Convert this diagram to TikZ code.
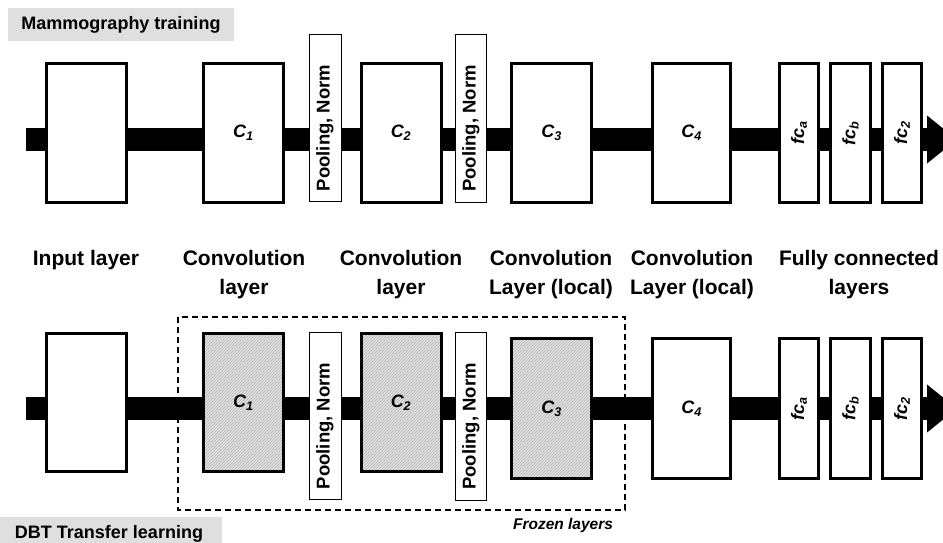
\documentclass[tikz,border=0pt]{standalone}
\usepackage{fontspec}
\setmainfont{Liberation Sans}
\usetikzlibrary{arrows.meta,patterns}

\begin{document}
\begin{tikzpicture}[x=1pt,y=-1pt,
  layer/.style={draw,line width=3pt,fill=white,minimum width=80pt,minimum height=139pt,inner sep=0pt,font=\fontsize{18}{20}\selectfont\bfseries\itshape},
  frozen/.style={layer,preaction={fill=gray!22},pattern=north east lines,pattern color=gray!60},
  fcl/.style={layer,rotate=90,minimum width=139pt,minimum height=39.5pt},
  pool/.style={draw,line width=1pt,fill=white,rotate=90,minimum width=167pt,minimum height=32pt,inner sep=0pt,font=\fontsize{18.5}{20}\selectfont\bfseries},
  bar/.style={line width=23pt,-{Triangle[length=30pt,width=46pt]}},
  title/.style={fill=gray!25,minimum width=226pt,minimum height=33pt,inner sep=0pt,font=\fontsize{18}{20}\selectfont\bfseries},
  lbl/.style={anchor=north,inner sep=0pt,align=center,font=\fontsize{21}{29}\selectfont\bfseries}]
  \clip (0,0) rectangle (943,542);
  \node[title] (mammo) at (121,24.5) {Mammography training};
  \node[title] (dbt) at (109,533.5) {DBT Transfer learning};
  \coordinate (s1) at (26,139.5); \coordinate (e1) at (957,139.5);
  \coordinate (s2) at (26,408.5); \coordinate (e2) at (957,408.5);
  \draw[bar] (s1) -- (e1);
  \draw[bar] (s2) -- (e2);
  \node[layer] (in1) at (86,133) {};
  \node[layer] (c1) at (243.5,133) {C\textsubscript{1}};
  \node[pool] (p1) at (325,118) {Pooling, Norm\hspace*{20pt}};
  \node[layer] (c2) at (401,133) {C\textsubscript{2}};
  \node[pool,minimum height=31pt,minimum width=168pt] (p2) at (471,118.5) {Pooling, Norm\hspace*{20pt}};
  \node[layer] (c3) at (551.5,133) {C\textsubscript{3}};
  \node[layer,minimum width=78pt] (c4) at (691.5,133) {C\textsubscript{4}};
  \node[fcl] (fca) at (799,133) {fc\textsubscript{a}};
  \node[fcl,minimum height=40pt] (fcb) at (850.5,133) {fc\textsubscript{b}};
  \node[fcl] (fc2) at (902,133) {fc\textsubscript{2}};
  \node[lbl] (lin) at (86,250.5) {Input layer};
  \node[lbl] (lc1) at (244,250.5) {Convolution\\layer};
  \node[lbl] (lc2) at (401,250.5) {Convolution\\layer};
  \node[lbl] (lc3) at (551,250.5) {Convolution\\Layer (local)};
  \node[lbl] (lc4) at (692,250.5) {Convolution\\Layer (local)};
  \node[lbl] (lfc) at (859,250.5) {Fully connected\\layers};
  \draw[line width=1.8pt,dash pattern=on 6pt off 4pt] (178,317) rectangle (625,510);
  \node[font=\fontsize{15.5}{18}\selectfont\bfseries\itshape] (frz) at (563,525) {Frozen layers};
  \node[layer,minimum height=138pt] (in2) at (86,402.5) {};
  \node[frozen,minimum height=138pt] (c1b) at (243.5,402.5) {C\textsubscript{1}};
  \node[pool] (p1b) at (325,416) {Pooling, Norm\hspace*{20pt}};
  \node[frozen,minimum height=138pt] (c2b) at (401,402.5) {C\textsubscript{2}};
  \node[pool,minimum height=31pt,minimum width=168pt] (p2b) at (471,416.5) {Pooling, Norm\hspace*{20pt}};
  \node[frozen,minimum height=140pt] (c3b) at (551.5,408.5) {C\textsubscript{3}};
  \node[layer,minimum width=78pt,minimum height=140pt] (c4b) at (691.5,408.5) {C\textsubscript{4}};
  \node[fcl,minimum width=140pt] (fcab) at (799,408.5) {fc\textsubscript{a}};
  \node[fcl,minimum width=140pt,minimum height=40pt] (fcbb) at (850.5,408.5) {fc\textsubscript{b}};
  \node[fcl,minimum width=140pt] (fc2b) at (902,408.5) {fc\textsubscript{2}};
\end{tikzpicture}
\end{document}
